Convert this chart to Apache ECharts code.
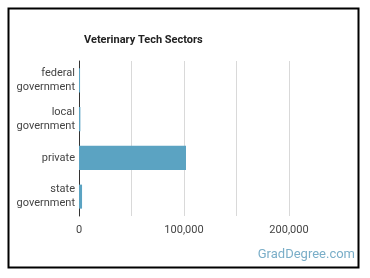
<!DOCTYPE html>
<html>
<head>
<meta charset="utf-8">
<script src="https://cdn.jsdelivr.net/npm/echarts@6/dist/echarts.min.js"></script>
<style>
  html, body { margin: 0; padding: 0; background: #fff; }
  #chart { width: 370px; height: 278px; }
</style>
</head>
<body>
<div id="chart"></div>
<script>
// sector names and worker counts
const categories = ['federal\ngovernment', 'local\ngovernment', 'private', 'state\ngovernment']
const workers = [1000, 1300, 101900, 2900]
const axisMax = 200000
const axisStep = 50000

let chart = echarts.init(document.getElementById('chart'))

let option = {
  animation: false,
  title: {
    text: 'Veterinary Tech Sectors',
    left: 79,
    top: 30,
    textStyle: {
      fontFamily: 'Roboto',
      fontSize: 11,
      fontWeight: 'bold',
      color: '#222'
    }
  },
  grid: {
    left: 79,
    right: 81,
    top: 61,
    bottom: 62,
    containLabel: false
  },
  xAxis: {
    type: 'value',
    min: 0,
    max: axisMax,
    interval: axisStep,
    axisLine: {show: false},
    axisTick: {show: false},
    splitLine: {lineStyle: {color: '#d9d9d9', width: 1}},
    axisLabel: {
      margin: 9,
      fontFamily: 'Roboto',
      fontSize: 11,
      color: '#444',
      formatter: (v) => (v % 100000 === 0 ? v.toLocaleString('en-US') : '')
    }
  },
  yAxis: {
    type: 'category',
    inverse: true,
    data: categories,
    axisTick: {show: false},
    axisLine: {lineStyle: {color: '#333', width: 1}},
    axisLabel: {
      margin: 4,
      fontFamily: 'Roboto',
      fontSize: 11,
      lineHeight: 14,
      color: '#444',
      align: 'right'
    }
  },
  series: [{
    type: 'bar',
    data: workers,
    barWidth: '62%',
    itemStyle: {color: '#5ba3c2'}
  }],
  graphic: [
    {
      type: 'rect',
      shape: {x: 8.5, y: 8.5, width: 350, height: 259},
      style: {fill: 'none', stroke: '#000', lineWidth: 2},
      silent: true
    },
    {
      type: 'text',
      right: 15,
      top: 248,
      style: {
        text: 'GradDegree.com',
        fontFamily: 'Roboto',
        fontSize: 13,
        fill: '#7aaec8'
      }
    }
  ]
}

chart.setOption(option)
</script>
</body>
</html>
